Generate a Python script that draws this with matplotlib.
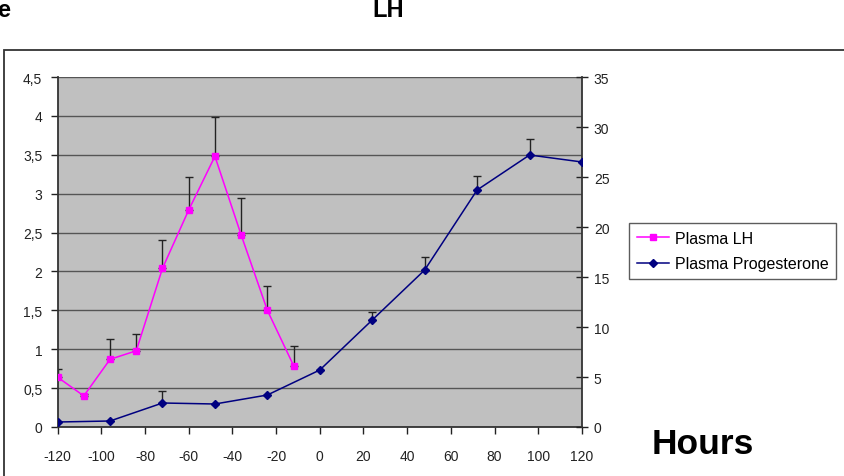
import matplotlib
matplotlib.use("Agg")
import matplotlib.pyplot as plt
from matplotlib.patches import Rectangle
from matplotlib.ticker import FuncFormatter
import numpy as np

plt.rcParams["font.family"] = ["Liberation Sans", "DejaVu Sans"]
plt.rcParams["axes.unicode_minus"] = False

# Plasma LH (left axis)
lh_hours = [-120, -108, -96, -84, -72, -60, -48, -36, -24, -12]
lh_vals = [0.64, 0.40, 0.87, 0.98, 2.04, 2.79, 3.48, 2.47, 1.50, 0.79]
lh_err = [0.11, 0.02, 0.26, 0.22, 0.36, 0.43, 0.51, 0.48, 0.31, 0.25]

# Plasma progesterone (right axis)
pg_hours = [-120, -96, -72, -48, -24, 0, 24, 48, 72, 96, 120]
pg_vals = [0.5, 0.6, 2.4, 2.3, 3.2, 5.7, 10.7, 15.7, 23.7, 27.2, 26.5]
pg_err = [0.0, 0.0, 1.2, 0.0, 0.0, 0.0, 0.8, 1.3, 1.4, 1.6, 0.0]

W, H = 844, 477
fig = plt.figure(figsize=(W / 100, H / 100), dpi=100)

# outer chart frame (runs off right/bottom edge)
fig.patches.append(Rectangle((4 / W, -0.1), 1.2, 1 - 51 / H + 0.1, transform=fig.transFigure,
                             fill=False, edgecolor="#333333", lw=1.3))

ax = fig.add_axes([57.6 / W, 1 - 428 / H, (582 - 57.6) / W, (428 - 78) / H])
ax2 = ax.twinx()

ax.set_facecolor("#C0C0C0")
ax.set_xlim(-120, 120)
ax.set_ylim(0, 4.5)
ax.set_yticks(np.arange(0, 4.51, 0.5))
ax.yaxis.set_major_formatter(FuncFormatter(lambda v, p: f"{v:g}".replace(".", ",")))
ax.set_xticks(np.arange(-120, 121, 20))
ax.grid(axis="y", color="#555555", lw=1.0)
ax.set_axisbelow(True)
ax2.set_ylim(0, 35)
ax2.set_yticks(np.arange(0, 36, 5))

for a in (ax, ax2):
    for s in a.spines.values():
        s.set_visible(False)
    a.tick_params(labelsize=10, colors="#222222", length=5, width=1)
ax.spines["left"].set_visible(True)
ax.spines["bottom"].set_visible(True)
ax2.spines["right"].set_visible(True)
for s in (ax.spines["left"], ax.spines["bottom"], ax2.spines["right"]):
    s.set_color("#333333")
    s.set_linewidth(1.3)
ax.tick_params(axis="x", pad=11)
ax.tick_params(axis="y", pad=6)
ax2.tick_params(axis="y", direction="inout", length=9, pad=4)

lh_line, = ax.plot(lh_hours, lh_vals, "-s", color="#FF00FF", ms=5, lw=1.1, zorder=3)
ax.errorbar(lh_hours, lh_vals, yerr=[np.zeros(len(lh_err)), lh_err], fmt="none",
            ecolor="#222222", elinewidth=1, capsize=3, capthick=1, zorder=2)

pg_line, = ax2.plot(pg_hours, pg_vals, "-D", color="#000080", ms=4.5, lw=1.1, zorder=3)
pg_e = [e if e > 0 else np.nan for e in pg_err]
ax2.errorbar(pg_hours, pg_vals, yerr=[np.zeros(len(pg_e)), pg_e], fmt="none",
             ecolor="#222222", elinewidth=1, capsize=3, capthick=1, zorder=2)

leg = fig.legend([lh_line, pg_line], ["Plasma LH", "Plasma Progesterone"],
                 loc="upper left", bbox_to_anchor=(629 / W, 1 - 224 / H),
                 fontsize=11.5, frameon=True, fancybox=False, edgecolor="#333333",
                 handlelength=2.0, handletextpad=0.35, borderpad=0.5, labelspacing=0.65,
                 borderaxespad=0)
leg.get_frame().set_linewidth(1.0)

fig.text(703 / W, 1 - 445 / H, "Hours", fontsize=25.5, fontweight="bold", ha="center", va="center")
fig.text(388 / W, 1 - 17 / H, "LH", fontsize=17, fontweight="bold", ha="center", va="baseline")
fig.text(-3 / W, 1 - 17 / H, "e", fontsize=17, fontweight="bold", ha="left", va="baseline")

fig.savefig("out.png", dpi=100)
